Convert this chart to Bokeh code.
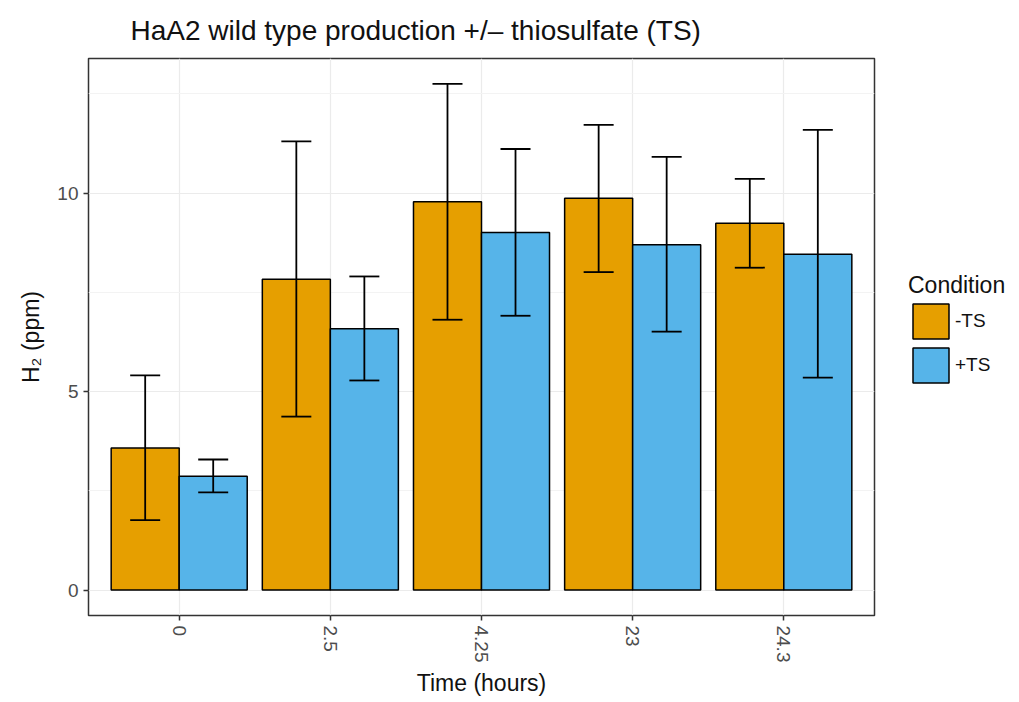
from bokeh.plotting import figure
from bokeh.models import (ColumnDataSource, FactorRange, Range1d, FixedTicker, Whisker,
                          Legend, LegendItem, Title)
from bokeh.transform import dodge
from bokeh.embed import file_html
from bokeh.resources import INLINE

times = ["0", "2.5", "4.25", "23", "24.3"]
conditions = ["-TS", "+TS"]
minus_mean = [3.58, 7.83, 9.78, 9.87, 9.24]
minus_low = [1.76, 4.37, 6.81, 8.01, 8.12]
minus_high = [5.41, 11.30, 12.75, 11.72, 10.36]
plus_mean = [2.87, 6.58, 9.01, 8.70, 8.46]
plus_low = [2.46, 5.28, 6.91, 6.51, 5.35]
plus_high = [3.29, 7.90, 11.11, 10.91, 11.59]
colors = ["#E69F00", "#56B4E9"]
y_ticks = [0, 5, 10]
y_minor = [2.5, 7.5, 12.5]

FONT = "Liberation Sans"

p = figure(frame_width=786, frame_height=557, output_backend="svg", toolbar_location=None,
           x_range=FactorRange(*times, range_padding=0.04, range_padding_units="percent"),
           y_range=Range1d(-0.64, 13.39),
           min_border_left=88, min_border_right=145, min_border_top=58, min_border_bottom=87)
p.background_fill_color = "white"
p.border_fill_color = "white"
p.outline_line_color = "#333333"
p.outline_line_width = 1.5

p.title = Title(text="HaA2 wild type production +/\u2013 thiosulfate (TS)", text_font=FONT,
                text_font_size="28px", text_font_style="normal", text_color="#111111",
                offset=42, standoff=25)

src_m = ColumnDataSource(dict(time=times, mean=minus_mean, low=minus_low, high=minus_high))
src_p = ColumnDataSource(dict(time=times, mean=plus_mean, low=plus_low, high=plus_high))

rm = p.vbar(x=dodge("time", -0.225, range=p.x_range), top="mean", bottom=0, width=0.45,
            source=src_m, fill_color=colors[0], line_color="black", line_width=1.5)
rp = p.vbar(x=dodge("time", 0.225, range=p.x_range), top="mean", bottom=0, width=0.45,
            source=src_p, fill_color=colors[1], line_color="black", line_width=1.5)

for src, off in [(src_m, -0.225), (src_p, 0.225)]:
    w = Whisker(base=dodge("time", off, range=p.x_range), lower="low", upper="high", source=src,
                line_color="black", line_width=1.8, level="overlay")
    w.upper_head.size = 30
    w.lower_head.size = 30
    w.upper_head.line_color = "black"
    w.lower_head.line_color = "black"
    w.upper_head.line_width = 1.8
    w.lower_head.line_width = 1.8
    p.add_layout(w)

# grids
p.xgrid.grid_line_color = "#ebebeb"
p.xgrid.grid_line_width = 1.2
p.ygrid.ticker = FixedTicker(ticks=y_ticks, minor_ticks=y_minor)
p.ygrid.grid_line_color = "#ebebeb"
p.ygrid.grid_line_width = 1.2
p.ygrid.minor_grid_line_color = "#f3f3f3"
p.ygrid.minor_grid_line_width = 1

# axes
p.yaxis.ticker = FixedTicker(ticks=y_ticks, minor_ticks=y_minor)
for ax in [p.xaxis[0], p.yaxis[0]]:
    ax.axis_line_color = None
    ax.major_tick_line_color = "#333333"
    ax.major_tick_line_width = 1.5
    ax.major_tick_in = 0
    ax.major_tick_out = 5
    ax.minor_tick_line_color = None
    ax.major_label_text_font = FONT
    ax.major_label_text_font_size = "19px"
    ax.major_label_text_color = "#4d4d4d"
    ax.axis_label_text_font = FONT
    ax.axis_label_text_font_size = "23px"
    ax.axis_label_text_font_style = "normal"
    ax.axis_label_text_color = "#111111"
p.xaxis.axis_label = "Time (hours)"
p.xaxis.major_label_orientation = -1.5708
p.xaxis.major_label_standoff = 5
p.xaxis.axis_label_standoff = 5
p.xaxis.group_text_font_size = "0px"
p.yaxis.axis_label = "H\u2082 (ppm)"
p.yaxis.major_label_standoff = 5
p.yaxis.axis_label_standoff = 10

legend = Legend(items=[LegendItem(label=conditions[0], renderers=[rm]),
                       LegendItem(label=conditions[1], renderers=[rp])],
                location=(34, 228), title="Condition", title_text_font=FONT,
                title_text_font_size="23px", title_text_font_style="normal",
                title_text_color="#111111", title_standoff=0,
                label_text_font=FONT, label_text_font_size="19px", label_text_color="#111111",
                glyph_width=45, glyph_height=44, label_height=44, label_width=30,
                spacing=0, padding=0, margin=0,
                border_line_color=None, background_fill_alpha=0, label_standoff=2)
p.add_layout(legend, "right")

open("out.html", "w").write(file_html(p, INLINE))
